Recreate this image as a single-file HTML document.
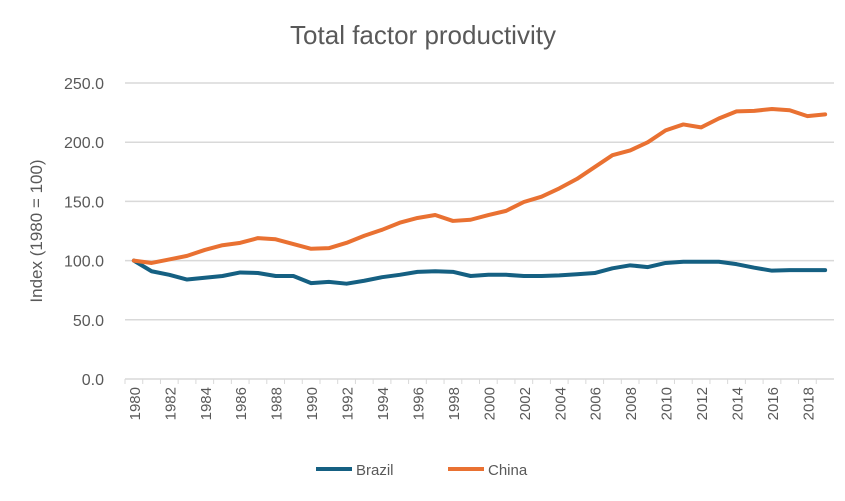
<!DOCTYPE html>
<html><head><meta charset="utf-8"><style>
body{margin:0;background:#fff;font-family:"Liberation Sans",sans-serif}
svg text{font-family:"Liberation Sans",sans-serif}
</style></head><body>
<svg width="845" height="496" id="c">
<rect width="845" height="496" fill="#fff"/>
<text x="423" y="44" text-anchor="middle" font-size="26" fill="#595959">Total factor productivity</text>
<text transform="translate(42,231) rotate(-90)" text-anchor="middle" font-size="17" fill="#595959">Index (1980 = 100)</text>
<g id="grid"></g><g id="xt"></g><g id="series"></g>
<g>
<line x1="316" y1="469" x2="352" y2="469" stroke="#156082" stroke-width="4"/>
<text x="356" y="475" font-size="15" fill="#595959">Brazil</text>
<line x1="448" y1="469" x2="484" y2="469" stroke="#E97132" stroke-width="4"/>
<text x="488" y="475" font-size="15" fill="#595959">China</text>
</g>
</svg>
<script>
const years=[];for(let y=1980;y<=2019;y++)years.push(y);
const yTicks=[0,50,100,150,200,250];
const brazil=[100,91,88,84,85.5,87,90,89.5,87,87,81,82,80.5,83,86,88,90.5,91,90.5,87,88,88,87,87,87.5,88.5,89.5,93.5,96,94.5,98,99,99,99,97,94,91.5,92,92,92];
const china=[100,98,101,104,109,113,115,119,118,114,110,110.5,115,121,126,132,136,138.5,133.5,134.5,138.5,142,149.5,154,161,169,179,189,193,200,210,215,212.5,220,226,226.5,228,227,222,223.5];
const NS="http://www.w3.org/2000/svg";
const X0=125,X1=834,Y0=379,Y250=83;
const xs=i=>X0+(X1-X0)*(i+0.5)/years.length;
const ys=v=>Y0-(Y0-Y250)*v/250;
const mk=(t,a,p)=>{const e=document.createElementNS(NS,t);for(const k in a)e.setAttribute(k,a[k]);p.appendChild(e);return e;};
const g=document.getElementById('grid');
yTicks.forEach(v=>{
 const l=mk('line',{x1:X0,x2:X1,y1:ys(v),y2:ys(v),stroke:'#d9d9d9','stroke-width':1.5},g);
 
 
 const t=mk('text',{x:104,y:ys(v)+6,'text-anchor':'end','font-size':16,fill:'#595959'},g);
 t.textContent=v.toFixed(1);
 
 
});
const xt=document.getElementById('xt');
years.forEach((y,i)=>{
 mk('line',{x1:X0+(X1-X0)*i/years.length,x2:X0+(X1-X0)*i/years.length,y1:Y0,y2:Y0+5,stroke:'#d9d9d9'},xt);
 if(i%2==0){const t=mk('text',{transform:`translate(${xs(i)+6},${Y0+8}) rotate(-90)`,'text-anchor':'end','font-size':15,fill:'#595959'},xt);
 t.textContent=y;
 
 }
});
const s=document.getElementById('series');
[[brazil,'#156082','line-brazil'],[china,'#E97132','line-china']].forEach(([d,c,n])=>{
 const p=mk('polyline',{points:d.map((v,i)=>xs(i)+','+ys(v)).join(' '),fill:'none',stroke:c,'stroke-width':4,'stroke-linejoin':'round','stroke-linecap':'round'},s);
 
 
});
</script>
</body></html>
